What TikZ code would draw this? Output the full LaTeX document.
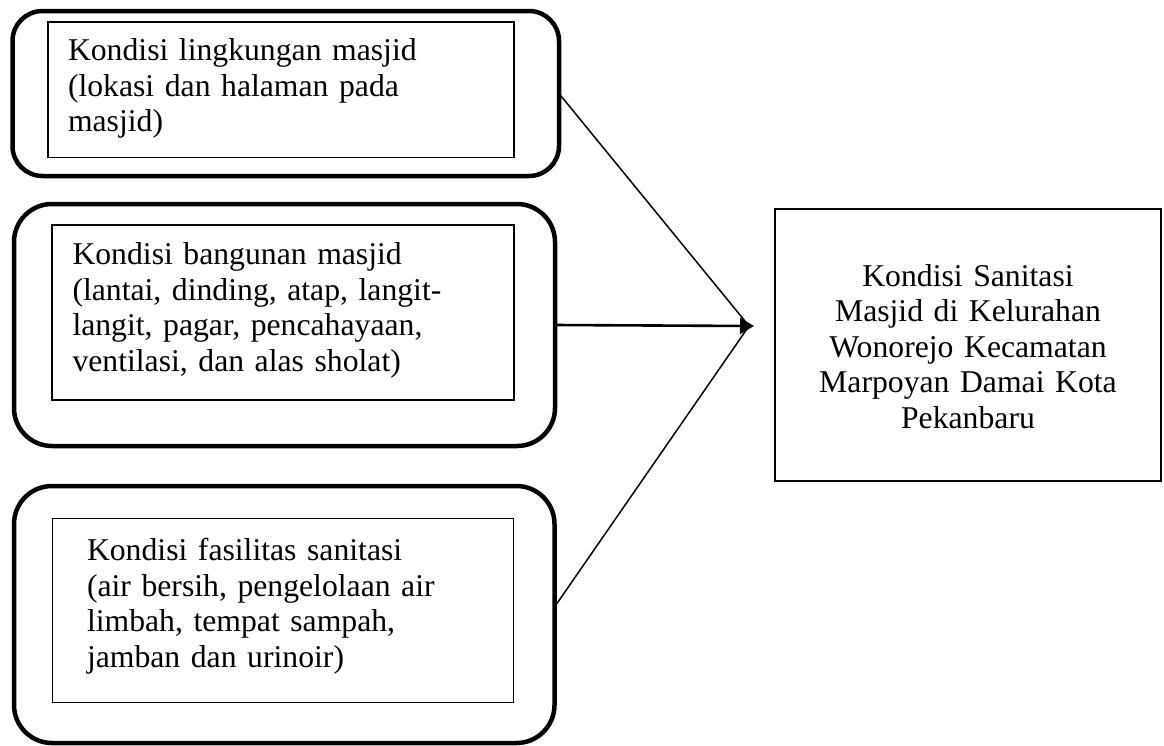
\documentclass[tikz,border=0pt]{standalone}
\usepackage{fontspec}
\setmainfont{Liberation Serif}
\usetikzlibrary{arrows.meta}
\tikzset{
  outerbox/.style={draw, rectangle, line width=4.5pt, outer sep=0pt, inner sep=0pt},
  innerbox/.style={draw, rectangle, line width=1.2pt, outer sep=0pt, inner sep=0pt},
  resultbox/.style={draw, rectangle, line width=1.5pt, outer sep=0pt, inner sep=0pt},
  boxtext/.style={inner sep=0pt, outer sep=0pt, anchor=north west, align=left, text width=450pt, font=\fontsize{31.7}{35.4}\selectfont},
  resulttext/.style={inner sep=0pt, outer sep=0pt, anchor=north, align=center, text width=380pt, font=\fontsize{31.7}{35.4}\selectfont},
  thinlink/.style={line width=1.5pt},
  mainlink/.style={line width=2.6pt, -{Triangle[length=14pt,width=16pt]}}
}
\begin{document}
\begin{tikzpicture}[x=1pt,y=-1pt]
\useasboundingbox (0,0) rectangle (1164,745);

% outer rounded boxes
\node[outerbox, rounded corners=30pt, minimum width=546.5pt, minimum height=165pt] (b1) at (285.75,93.5) {};
\node[outerbox, rounded corners=38pt, minimum width=541pt, minimum height=242pt] (b2) at (284.5,325) {};
\node[outerbox, rounded corners=38pt, minimum width=540.5pt, minimum height=257pt] (b3) at (284.25,614.5) {};

% inner rectangles
\node[innerbox, minimum width=466pt, minimum height=135.5pt] (i1) at (281,89.75) {};
\node[innerbox, minimum width=462pt, minimum height=175pt] (i2) at (283,312.5) {};
\node[innerbox, minimum width=461pt, minimum height=184pt] (i3) at (283,610.5) {};

% texts
\node[boxtext] (t1) at (68,36.2) {\strut Kondisi lingkungan masjid\\(lokasi dan halaman pada\\masjid)};
\node[boxtext] (t2) at (72.5,240.2) {\strut Kondisi bangunan masjid\\(lantai, dinding, atap, langit-\\langit, pagar, pencahayaan,\\ventilasi, dan alas sholat)};
\node[boxtext] (t3) at (87,536.2) {\strut Kondisi fasilitas sanitasi\\(air bersih, pengelolaan air\\limbah, tempat sampah,\\jamban dan urinoir)};

% result box
\node[resultbox, minimum width=386pt, minimum height=272pt] (r) at (968,345) {};
\node[resulttext] (rt) at (968,261.7) {\strut Kondisi Sanitasi\\Masjid di Kelurahan\\Wonorejo Kecamatan\\Marpoyan Damai Kota\\Pekanbaru};

% connectors
\coordinate (meet) at (749,326);
\coordinate (tip) at (754,326);
\draw[thinlink] (b1.east) -- (meet);
\draw[thinlink] ([yshift=7.5pt]b3.east) -- (meet);
\draw[mainlink] (b2.east) -- (tip);
\end{tikzpicture}
\end{document}
